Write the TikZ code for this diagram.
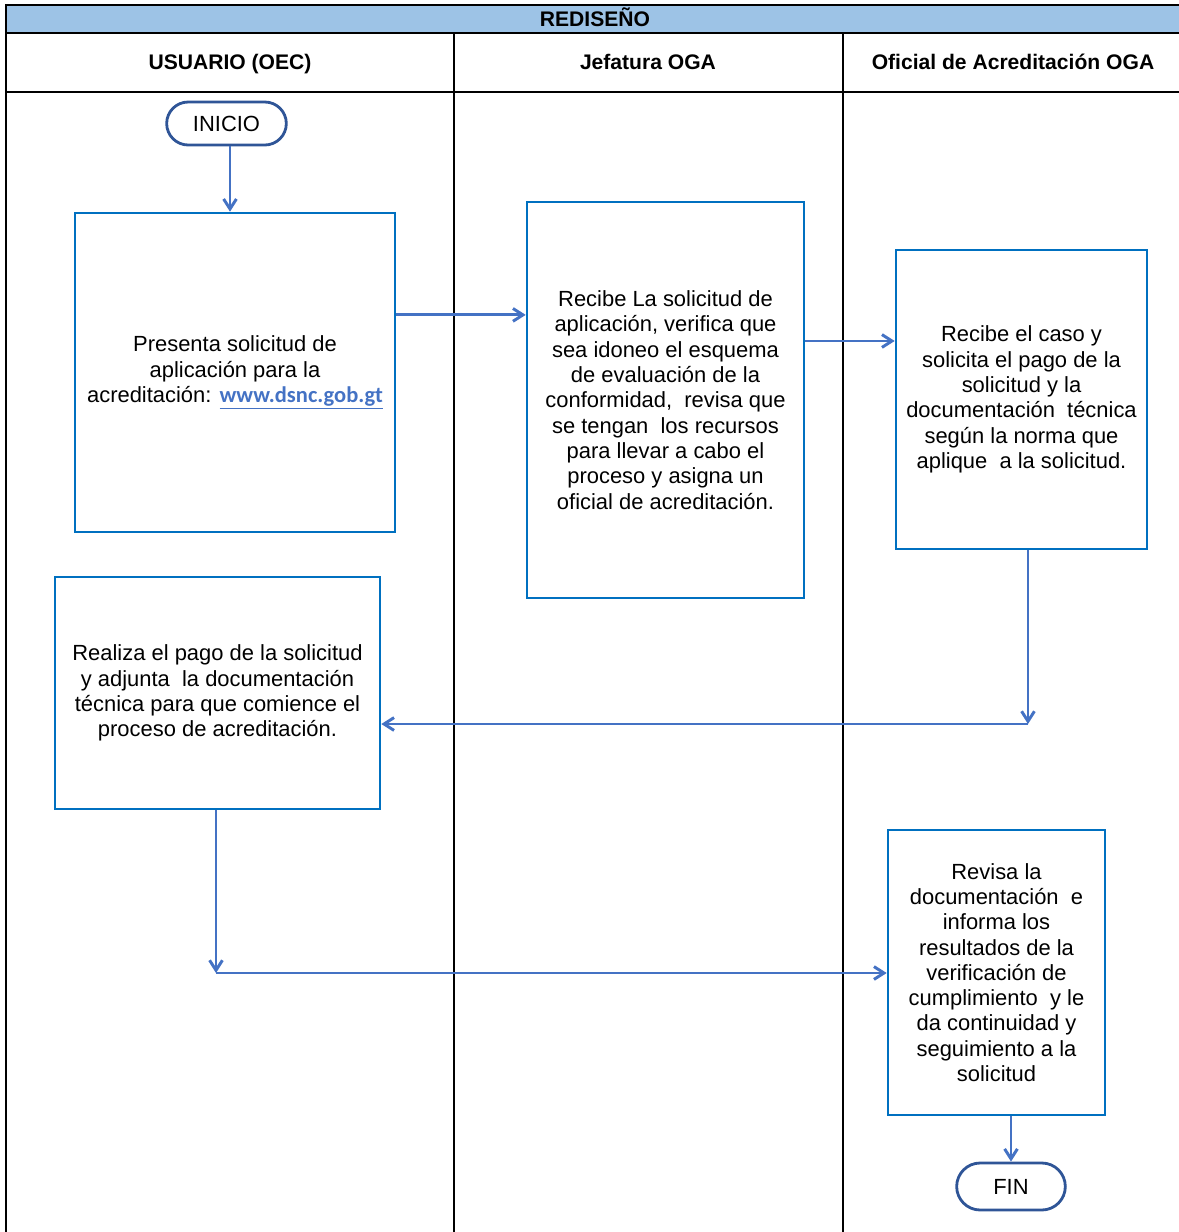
\documentclass[tikz,border=0pt]{standalone}
\usepackage{fontspec}
\setmainfont{Liberation Sans}
\newfontfamily\linkfont{Carlito}
\usetikzlibrary{arrows.meta, shapes.misc}

\definecolor{azulcaja}{HTML}{0070C0}
\definecolor{azulflecha}{HTML}{4472C4}
\definecolor{azulterm}{HTML}{2F5597}
\definecolor{azulencab}{HTML}{9DC3E6}

\begin{document}
\begin{tikzpicture}[x=0.025cm, y=-0.025cm,
        texto/.style={font=\fontsize{15.6}{18}\selectfont},
        caja/.style={texto, draw=azulcaja, line width=1.8pt, align=center, inner sep=0pt},
        terminal/.style={texto, draw=azulterm, line width=2pt, rounded rectangle},
        flecha/.style={draw=azulflecha, line width=2.1pt, -{Straight Barb[length=2.5mm, width=3.2mm]}},
        tabla/.style={line width=1pt},
        encab/.style={anchor=base, font=\fontsize{15}{18}\selectfont\bfseries}]
    \useasboundingbox (0,0) rectangle (1179,1232);
    % tabla
    \fill[azulencab] (6,5) rectangle (1179,33);
    \draw[tabla] (1179,5) -- (6,5) -- (6,1232);
    \draw[tabla] (6,33) -- (1179,33);
    \draw[tabla] (6,92) -- (1179,92);
    \draw[tabla] (454,33) -- (454,1232);
    \draw[tabla] (843,33) -- (843,1232);
    \node[encab] (titulo) at (595,26.5) {REDISEÑO};
    \node[encab] (col1) at (230,69.5) {USUARIO (OEC)};
    \node[encab] (col2) at (648,69.5) {Jefatura OGA};
    \node[encab] (col3) at (1013,69.5) {Oficial de Acreditación OGA};
    % pasos
    \node[terminal, minimum width=3.225cm, minimum height=1.075cm] (inicio) at (226.5,123.5) {INICIO};
    \node[caja, minimum width=8cm, minimum height=7.975cm] (presenta) at (235,372.5)
        {Presenta solicitud de\\aplicación para la\\acreditación: {\linkfont\fontsize{16}{18}\selectfont\bfseries\color{azulflecha}\underline{www.dsnc.gob.gt}}};
    \node[caja, minimum width=6.925cm, minimum height=9.9cm] (recibe) at (665.5,400)
        {Recibe La solicitud de\\aplicación, verifica que\\sea idoneo el esquema\\de evaluación de la\\conformidad,\ \ revisa que\\se tengan\ \ los recursos\\para llevar a cabo el\\proceso y asigna un\\oficial de acreditación.};
    \node[caja, minimum width=6.275cm, minimum height=7.475cm] (caso) at (1021.5,399.5)
        {Recibe el caso y\\solicita el pago de la\\solicitud y la\\documentación\ \ técnica\\según la norma que\\aplique\ \ a la solicitud.};
    \node[caja, minimum width=8.125cm, minimum height=5.8cm] (pago) at (217.5,693)
        {Realiza el pago de la solicitud\\y adjunta\ \ la documentación\\técnica para que comience el\\proceso de acreditación.};
    \node[caja, minimum width=5.425cm, minimum height=7.125cm] (revisa) at (996.5,972.5)
        {Revisa la\\documentación\ \ e\\informa los\\resultados de la\\verificación de\\cumplimiento\ \ y le\\da continuidad y\\seguimiento a la\\solicitud};
    \node[terminal, minimum width=2.95cm, minimum height=1.175cm] (fin) at (1011,1186.5) {FIN};
    % conectores
    \coordinate (esq1) at (1028,724);
    \coordinate (esq2) at (216,973);
    \draw[flecha] (inicio.south -| 230,0) -- (presenta.north -| 230,0);
    \draw[flecha] ([yshift=1.44cm]presenta.east) coordinate (s1) -- (s1 -| recibe.west);
    \draw[flecha] ([yshift=1.475cm]recibe.east) coordinate (s2) -- (s2 -| caso.west);
    \draw[flecha] (caso.south -| esq1) -- (esq1);
    \draw[flecha] (esq1) -- (esq1 -| pago.east);
    \draw[flecha] (pago.south -| esq2) -- (esq2);
    \draw[flecha] (esq2) -- (esq2 -| revisa.west);
    \draw[flecha] (revisa.south -| fin.north) -- (fin.north);
\end{tikzpicture}
\end{document}
